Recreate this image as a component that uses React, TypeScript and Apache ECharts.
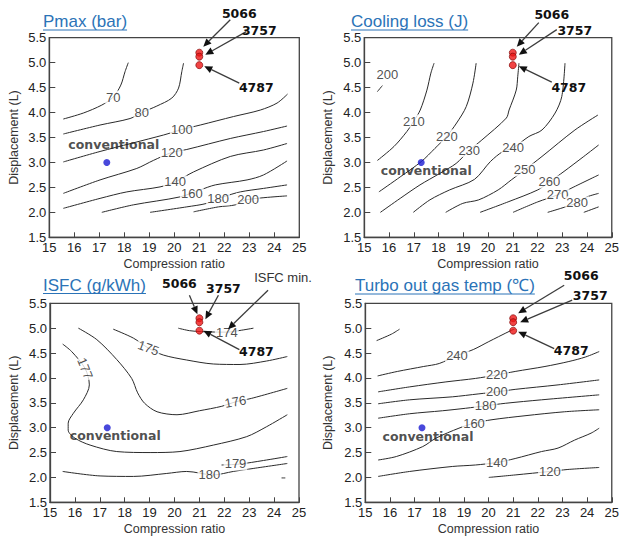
import React, { useEffect, useRef } from "react";
import * as echarts from "echarts";

// ---------- shared axes ----------
const crMin = 15;
const crMax = 25;
const crStep = 1;
const dispMin = 1.5;
const dispMax = 5.5;
const dispStep = 0.5;
const xName = "Compression ratio";
const yName = "Displacement (L)";

// ---------- marked engines ----------
const engineNames = ["5066", "3757", "4787"];
const engineCR = [21.0, 21.0, 21.0];
const engineDisp = [5.2, 5.12, 4.95];
const conventionalCR = 17.3;
const conventionalDisp = 3.0;
const isfcMinPoint = [22.15, 4.98];

const titles = ["Pmax (bar)", "Cooling loss (J)", "ISFC (g/kWh)", "Turbo out gas temp (℃)"];

// ---------- Pmax contours ----------
const pmaxLevels = ["70", "80", "100", "120", "140", "160", "180", "200"];
const pmaxLines = [
  [[15.56, 3.87], [16.36, 3.99], [17.1, 4.15], [17.56, 4.31], [17.86, 4.55], [18.03, 4.82], [18.16, 5.0]],
  [[15.56, 3.57], [17.03, 3.75], [18.23, 3.88], [18.7, 4.0], [19.3, 4.13], [19.9, 4.29], [20.17, 4.49], [20.3, 4.82], [20.37, 4.99]],
  [[15.56, 3.01], [17.03, 3.22], [19.57, 3.55], [20.3, 3.66], [21.04, 3.75], [22.37, 3.92], [23.44, 4.05], [24.11, 4.19], [24.53, 4.37]],
  [[15.56, 2.38], [17.03, 2.65], [18.5, 2.88], [19.16, 3.04], [19.9, 3.2], [20.5, 3.26], [22.24, 3.48], [23.57, 3.62], [24.51, 3.73]],
  [[15.56, 2.08], [17.03, 2.28], [18.1, 2.41], [19.43, 2.51], [20.03, 2.61], [20.77, 2.81], [22.24, 3.12], [23.57, 3.25], [24.51, 3.38]],
  [[17.1, 2.0], [18.36, 2.15], [20.23, 2.31], [21.04, 2.45], [21.64, 2.55], [22.91, 2.65], [23.57, 2.75], [24.51, 3.03]],
  [[19.03, 2.0], [20.5, 2.11], [21.3, 2.18], [21.97, 2.31], [22.64, 2.41], [23.57, 2.48], [24.51, 2.55]],
  [[20.77, 2.01], [21.77, 2.11], [22.44, 2.15], [22.84, 2.25], [24.51, 2.33]],
];
const pmaxLabelAt = [[17.56, 4.31], [18.7, 4.0], [20.3, 3.66], [19.9, 3.2], [20.03, 2.61], [20.7, 2.38], [21.75, 2.27], [22.95, 2.26]];
const pmaxLabelRotate = [0, 0, 0, 0, 0, 0, 0, 0];

// ---------- Cooling loss contours ----------
const coolLevels = ["200", "210", "220", "230", "240", "250", "260", "270", "280", ""];
const coolLines = [
  [[15.53, 4.42], [15.73, 4.54]],
  [[15.53, 3.04], [16.2, 3.32], [16.72, 3.62], [17.0, 3.83], [17.26, 4.05], [17.53, 4.45], [17.69, 4.79], [17.82, 4.99]],
  [[15.59, 2.41], [16.45, 2.71], [17.31, 3.02], [17.85, 3.28], [18.34, 3.53], [18.73, 3.79], [19.12, 4.12], [19.39, 4.59], [19.52, 4.99]],
  [[15.65, 2.0], [16.45, 2.28], [17.25, 2.55], [18.05, 2.78], [18.71, 2.98], [19.24, 3.24], [19.75, 3.45], [20.74, 3.89], [20.85, 4.05], [21.14, 4.45], [21.2, 4.72], [21.25, 4.99]],
  [[16.98, 2.0], [17.65, 2.25], [18.45, 2.45], [19.45, 2.66], [20.1, 3.02], [20.6, 3.22], [21.01, 3.29], [21.65, 3.52], [22.18, 3.65], [22.71, 3.99], [22.98, 4.32], [23.11, 4.99]],
  [[18.29, 2.0], [18.98, 2.18], [19.62, 2.25], [20.41, 2.45], [20.94, 2.65], [21.48, 2.85], [22.18, 3.12], [23.51, 3.65], [24.44, 3.95]],
  [[19.68, 2.0], [20.81, 2.21], [22.01, 2.45], [22.48, 2.61], [23.07, 2.82], [23.87, 3.12], [24.47, 3.35]],
  [[21.01, 2.0], [22.01, 2.21], [22.81, 2.35], [23.47, 2.51], [24.47, 2.75]],
  [[22.41, 2.0], [22.94, 2.08], [23.54, 2.18], [24.0, 2.31], [24.47, 2.38]],
  [[23.87, 2.0], [24.47, 2.11]],
];
const coolLabelAt = [[15.93, 4.77], [17.0, 3.83], [18.34, 3.53], [19.24, 3.24], [21.01, 3.29], [21.48, 2.85], [22.48, 2.61], [22.81, 2.35], [23.6, 2.19], null];
const coolLabelRotate = [0, 0, 0, 0, 0, 0, 0, 0, 0, 0];

// ---------- ISFC contours ----------
const isfcLevels = ["174", "175", "176", "177", "179", "180", ""];
const isfcLines = [
  [[20.15, 5.0], [20.6, 4.95], [21.09, 4.93], [22.1, 4.92], [22.7, 4.96], [23.17, 5.0]],
  [[17.54, 4.98], [18.35, 4.8], [18.95, 4.6], [19.55, 4.46], [20.49, 4.36], [21.56, 4.28], [22.63, 4.27], [23.7, 4.34], [24.53, 4.43]],
  [[16.14, 5.0], [16.88, 4.77], [17.68, 4.37], [18.28, 3.99], [18.52, 3.7], [18.8, 3.49], [19.3, 3.32], [20.1, 3.26], [21.0, 3.34], [21.9, 3.43], [22.45, 3.52], [23.1, 3.59], [24.53, 3.79]],
  [[15.51, 4.68], [15.87, 4.53], [16.41, 4.19], [16.58, 3.86], [16.34, 3.56], [15.94, 3.29], [15.73, 3.09], [15.73, 2.95], [16.0, 2.79], [16.61, 2.65], [17.68, 2.52], [19.02, 2.5], [20.22, 2.52], [21.56, 2.65], [22.9, 2.82], [23.7, 3.02], [24.53, 3.26]],
  [[21.89, 2.25], [22.63, 2.27], [23.57, 2.34], [24.53, 2.42]],
  [[15.51, 2.12], [17.01, 2.03], [18.35, 2.02], [19.69, 2.08], [20.49, 2.12], [21.56, 2.05], [22.36, 2.12], [23.16, 2.18], [24.53, 2.28]],
  [[24.3, 1.99], [24.45, 1.99]],
];
const isfcLabelAt = [[22.1, 4.92], [18.95, 4.6], [22.45, 3.52], [16.41, 4.19], [22.45, 2.27], [21.4, 2.06], null];
const isfcLabelRotate = [0, -20, 10, -68, 0, 0, 0];

// ---------- Turbo out gas temp contours ----------
const turboLevels = ["", "240", "220", "200", "180", "160", "140", "120"];
const turboLines = [
  [[15.46, 4.75], [16.06, 4.88], [16.39, 4.98]],
  [[15.5, 4.04], [16.3, 4.13], [17.37, 4.23], [18.0, 4.29], [18.72, 4.45], [19.38, 4.57], [20.01, 4.73], [20.41, 4.83], [20.94, 4.96], [21.05, 4.98]],
  [[15.52, 3.72], [16.8, 3.82], [18.27, 3.92], [19.47, 3.99], [20.34, 4.06], [21.08, 4.13], [22.29, 4.23], [23.26, 4.33], [23.93, 4.42], [24.49, 4.53]],
  [[15.52, 3.48], [16.8, 3.56], [18.53, 3.62], [19.61, 3.68], [20.34, 3.72], [21.08, 3.77], [22.82, 3.86], [24.49, 3.96]],
  [[15.52, 3.19], [16.8, 3.28], [18.13, 3.34], [19.07, 3.39], [19.88, 3.44], [20.68, 3.49], [22.15, 3.56], [24.49, 3.66]],
  [[15.52, 2.35], [16.26, 2.42], [17.33, 2.62], [17.87, 2.79], [18.8, 2.99], [19.41, 3.09], [20.14, 3.16], [21.48, 3.24], [23.09, 3.32], [24.49, 3.36]],
  [[15.52, 2.02], [16.8, 2.12], [18.53, 2.22], [19.47, 2.25], [20.34, 2.3], [21.08, 2.38], [22.15, 2.52], [22.82, 2.59], [23.49, 2.75], [24.16, 2.89], [24.49, 2.99]],
  [[20.01, 2.0], [21.08, 2.05], [22.49, 2.12], [23.22, 2.16], [24.49, 2.2]],
];
const turboLabelAt = [null, [18.72, 4.45], [20.34, 4.06], [20.34, 3.72], [19.88, 3.44], [19.41, 3.09], [20.34, 2.3], [22.49, 2.12]];
const turboLabelRotate = [0, 0, 0, 0, 0, 0, 0, 0];

// ---------- layout (pixels) ----------
const PANELS = [
  {
    levels: pmaxLevels, lines: pmaxLines, labelAt: pmaxLabelAt, rotate: pmaxLabelRotate,
    grid: { left: 49.3, top: 37.7, width: 250, height: 199.6 }, yGap: 29,
    titlePos: [43, 21.5], conv: [7, -18],
    ann: [[40, -39, -9, 6, 4, -6], [60, -26, -13, 1, 6, -2], [57, 22, -17, -4, 5, 1]],
  },
  {
    levels: coolLevels, lines: coolLines, labelAt: coolLabelAt, rotate: coolLabelRotate,
    grid: { left: 364.3, top: 37.7, width: 250.2, height: 199.6 }, yGap: 30,
    titlePos: [351, 21.5], conv: [5, 8],
    ann: [[39, -38, -13, 8, 4, -6], [62, -26, -18, -1, 6, -2], [56, 22, -17, -5, 6, 1]],
  },
  {
    levels: isfcLevels, lines: isfcLines, labelAt: isfcLabelAt, rotate: isfcLabelRotate,
    grid: { left: 50, top: 303.3, width: 249, height: 199 }, yGap: 29.5,
    titlePos: [43, 285], conv: [8, 8],
    ann: [[-20, -35, 10, 12, -2, -4], [24, -34, -5, 7, 6, -3], [57, 21, -17, -2, 4, 0]],
  },
  {
    levels: turboLevels, lines: turboLines, labelAt: turboLabelAt, rotate: turboLabelRotate,
    grid: { left: 365.3, top: 303.3, width: 249, height: 199 }, yGap: 31,
    titlePos: [355, 285.5], conv: [6, 9],
    ann: [[68, -43, -17, 10, 5, -5], [77, -27, -18, 5, 7, 0], [58, 20, -17, -2, 5, 1]],
  },
];
const isfcMinAnn = [55, -52, -15, 13, 0, 0];

const FONT = "Liberation Sans";
const BOLD = "DejaVu Sans";
const TITLE_COLOR = "#2b73b7";
const AXIS_COLOR = "#444";

function measure(text: string, font: string): number {
  const c = document.createElement("canvas").getContext("2d");
  if (!c) return text.length * 9;
  c.font = font;
  return c.measureText(text).width;
}

function arrow(x1: number, y1: number, x2: number, y2: number): any[] {
  const dx = x2 - x1, dy = y2 - y1;
  const len = Math.sqrt(dx * dx + dy * dy) || 1;
  const ux = dx / len, uy = dy / len;
  const hl = 8, hw = 3.6;
  const bx = x2 - ux * hl, by = y2 - uy * hl;
  return [
    { type: "line", z: 100, silent: true, shape: { x1, y1, x2: bx, y2: by }, style: { stroke: "#3c3c3c", lineWidth: 1.3 } },
    {
      type: "polygon", z: 100, silent: true,
      shape: { points: [[x2, y2], [bx - uy * hw, by + ux * hw], [bx + uy * hw, by - ux * hw]] },
      style: { fill: "#111" },
    },
  ];
}

export default function App() {
  const ref = useRef<HTMLDivElement>(null);

  useEffect(() => {
    document.body.style.margin = "0";
    if (!ref.current) return;
    const chart = echarts.init(ref.current, null, { renderer: "svg" });

    const grids: any[] = [];
    const xAxes: any[] = [];
    const yAxes: any[] = [];
    const series: any[] = [];

    PANELS.forEach((p, i) => {
      grids.push({ ...p.grid, show: true, borderColor: AXIS_COLOR, borderWidth: 1.3, backgroundColor: "transparent", containLabel: false });
      xAxes.push({
        gridIndex: i, type: "value", min: crMin, max: crMax, interval: crStep,
        name: xName, nameLocation: "middle", nameGap: 20,
        nameTextStyle: { fontSize: 12.5, color: "#333", fontFamily: FONT },
        axisLine: { show: true, lineStyle: { color: AXIS_COLOR, width: 1.3 } },
        axisTick: { show: true, inside: true, length: 5, lineStyle: { color: AXIS_COLOR } },
        axisLabel: { fontSize: 13, color: "#222", margin: 4, fontFamily: FONT },
        splitLine: { show: false },
      });
      yAxes.push({
        gridIndex: i, type: "value", min: dispMin, max: dispMax, interval: dispStep,
        name: yName, nameLocation: "middle", nameGap: p.yGap, nameRotate: 90,
        nameTextStyle: { fontSize: 12.5, color: "#333", fontFamily: FONT },
        axisLine: { show: true, lineStyle: { color: AXIS_COLOR, width: 1.3 } },
        axisTick: { show: true, inside: true, length: 6, lineStyle: { color: AXIS_COLOR } },
        axisLabel: { fontSize: 13, color: "#222", margin: 3, fontFamily: FONT, formatter: (v: number) => v.toFixed(1) },
        splitLine: { show: false },
      });

      p.lines.forEach((pts) => {
        series.push({
          type: "line", xAxisIndex: i, yAxisIndex: i, data: pts, symbol: "none", showSymbol: false,
          smooth: 0.3, silent: true, z: 2,
          lineStyle: { color: "#2a2a2a", width: 1 },
        });
      });

      const labelData: any[] = [];
      p.labelAt.forEach((pos, k) => {
        if (!pos || !p.levels[k]) return;
        labelData.push({ value: pos, name: p.levels[k], label: { rotate: p.rotate[k] || 0 } });
      });
      series.push({
        type: "scatter", xAxisIndex: i, yAxisIndex: i, data: labelData, symbolSize: 1, silent: true, z: 3,
        itemStyle: { color: "rgba(0,0,0,0)" },
        label: {
          show: true, position: "inside", formatter: (d: any) => d.name,
          fontSize: 13, fontFamily: FONT, color: "#222", backgroundColor: "#fff", padding: [0, 1],
        },
      });

      series.push({
        type: "scatter", xAxisIndex: i, yAxisIndex: i, data: [[conventionalCR, conventionalDisp]],
        symbolSize: 7, silent: true, z: 5, itemStyle: { color: "#1a1ad2" },
        label: {
          show: true, position: "inside", offset: p.conv, formatter: "conventional",
          fontSize: 12.5, fontWeight: "bold", fontFamily: BOLD, color: "#222",
        },
      });

      series.push({
        type: "scatter", xAxisIndex: i, yAxisIndex: i, silent: true, z: 6,
        data: engineCR.map((c, k) => [c, engineDisp[k]]),
        symbolSize: 7, itemStyle: { color: "#ee1515", borderColor: "#7a0000", borderWidth: 0.8 },
      });
    });

    chart.setOption({
      animation: false,
      textStyle: { fontFamily: FONT },
      grid: grids,
      xAxis: xAxes,
      yAxis: yAxes,
      series,
    });

    const g: any[] = [];
    const titleFont = `17px "${FONT}"`;
    const boldFont = `bold 12.5px "${BOLD}"`;
    PANELS.forEach((p, i) => {
      const t = titles[i];
      const w = measure(t, titleFont);
      const [tx, ty] = p.titlePos;
      g.push({
        type: "text", x: tx, y: ty, z: 100, silent: true,
        style: { text: t, font: titleFont, fill: TITLE_COLOR, textAlign: "left", textVerticalAlign: "middle", align: "left", verticalAlign: "middle" },
      });
      g.push({ type: "line", z: 100, silent: true, shape: { x1: tx, y1: ty + 8.5, x2: tx + w, y2: ty + 8.5 }, style: { stroke: TITLE_COLOR, lineWidth: 1 } });

      engineNames.forEach((name, k) => {
        const pt = chart.convertToPixel({ gridIndex: i } as any, [engineCR[k], engineDisp[k]]) as number[];
        const a = p.ann[k];
        const lx = pt[0] + a[0], ly = pt[1] + a[1];
        g.push({
          type: "text", x: lx, y: ly, z: 101, silent: true,
          style: { text: name, font: boldFont, fill: "#111", textAlign: "center", textVerticalAlign: "middle", align: "center", verticalAlign: "middle" },
        });
        g.push(...arrow(lx + a[2], ly + a[3], pt[0] + a[4], pt[1] + a[5]));
      });

      if (i === 2) {
        const pt = chart.convertToPixel({ gridIndex: 2 } as any, isfcMinPoint) as number[];
        const a = isfcMinAnn;
        const lx = pt[0] + a[0], ly = pt[1] + a[1];
        g.push({
          type: "text", x: lx, y: ly, z: 101, silent: true,
          style: { text: "ISFC min.", font: `13px "${FONT}"`, fill: "#333", textAlign: "center", textVerticalAlign: "middle", align: "center", verticalAlign: "middle" },
        });
        g.push(...arrow(lx + a[2], ly + a[3], pt[0] + a[4], pt[1] + a[5]));
      }
    });
    chart.setOption({ graphic: g });

    return () => chart.dispose();
  }, []);

  return <div ref={ref} style={{ width: 622, height: 540 }} />;
}
